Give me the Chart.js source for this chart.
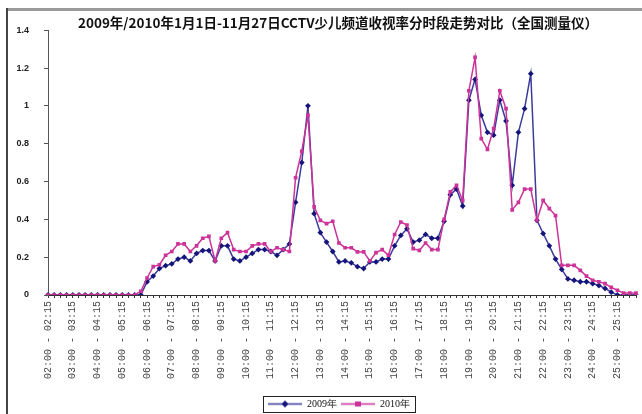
<!DOCTYPE html>
<html>
<head>
<meta charset="utf-8">
<script src="https://cdn.jsdelivr.net/npm/chart.js@4"></script>
<style>
  html, body { margin: 0; padding: 0; background: #fff; }
  #wrap { position: absolute; left: 0; top: 0; width: 642px; height: 414px; }
</style>
</head>
<body>
<div id="wrap"><canvas id="ratingChart" width="642" height="414"></canvas></div>
<script>
// hour labels shown under the axis (one every 4 quarter-hour slots)
const hourLabels = [
  '02:00 - 02:15', '03:00 - 03:15', '04:00 - 04:15', '05:00 - 05:15',
  '06:00 - 06:15', '07:00 - 07:15', '08:00 - 08:15', '09:00 - 09:15',
  '10:00 - 10:15', '11:00 - 11:15', '12:00 - 12:15', '13:00 - 13:15',
  '14:00 - 14:15', '15:00 - 15:15', '16:00 - 16:15', '17:00 - 17:15',
  '18:00 - 18:15', '19:00 - 19:15', '20:00 - 20:15', '21:00 - 21:15',
  '22:00 - 22:15', '23:00 - 23:15', '24:00 - 24:15', '25:00 - 25:15'
];

// rating per quarter hour, 02:00 .. 25:45
const rating2009 = [
  0, 0, 0, 0, 0, 0, 0, 0, 0, 0, 0, 0, 0, 0, 0, 0,
  0.07, 0.10, 0.14, 0.155, 0.165, 0.19, 0.20, 0.18, 0.22, 0.235, 0.235, 0.18,
  0.26, 0.26, 0.19, 0.18, 0.20, 0.22, 0.24, 0.24, 0.23, 0.21, 0.24, 0.27,
  0.49, 0.70, 1.00, 0.43, 0.33, 0.28, 0.23, 0.175, 0.18, 0.17, 0.15, 0.14,
  0.175, 0.175, 0.19, 0.19, 0.26, 0.315, 0.35, 0.28, 0.29, 0.32, 0.30, 0.30,
  0.39, 0.53, 0.56, 0.47, 1.03, 1.14, 0.95, 0.86, 0.845, 1.03, 0.92, 0.58,
  0.86, 0.985, 1.17, 0.395, 0.325, 0.26, 0.19, 0.135, 0.085, 0.078, 0.07, 0.07,
  0.06, 0.05, 0.035, 0.015, 0, 0, 0, 0
];
const rating2010 = [
  0, 0, 0, 0, 0, 0, 0, 0, 0, 0, 0, 0, 0, 0, 0, 0.02,
  0.09, 0.15, 0.16, 0.21, 0.23, 0.27, 0.27, 0.23, 0.26, 0.30, 0.31, 0.18,
  0.30, 0.33, 0.24, 0.23, 0.23, 0.26, 0.27, 0.27, 0.23, 0.25, 0.24, 0.23,
  0.62, 0.76, 0.95, 0.466, 0.395, 0.377, 0.39, 0.275, 0.25, 0.25, 0.228, 0.228,
  0.18, 0.224, 0.24, 0.21, 0.32, 0.386, 0.37, 0.245, 0.236, 0.275, 0.24, 0.24,
  0.40, 0.545, 0.58, 0.50, 1.08, 1.256, 0.827, 0.77, 0.88, 1.08, 0.985, 0.45,
  0.49, 0.56, 0.56, 0.395, 0.50, 0.457, 0.42, 0.157, 0.157, 0.157, 0.13, 0.10,
  0.078, 0.07, 0.06, 0.04, 0.025, 0.01, 0.01, 0.01
];

const seriesNames = ['2009年', '2010年'];
const titleText = '2009年/2010年1月1日-11月27日CCTV少儿频道收视率分时段走势对比（全国测量仪）';

const blue = '#3b3b9c';
const blueMark = '#14147a';
const pink = '#cc3399';

// quarter-hour slot names
const pad = n => String(n).padStart(2, '0');
const slots = [];
for (let h = 2; h < 26; h++) {
  for (let q = 0; q < 4; q++) {
    const m = q * 15, e = m + 15;
    const end = e === 60 ? pad(h + 1) + ':00' : pad(h) + ':' + pad(e);
    slots.push(pad(h) + ':' + pad(m) + ' - ' + end);
  }
}

// small line+marker swatch for legend entries
function swatch(color, markColor, diamond) {
  const c = document.createElement('canvas');
  c.width = 34; c.height = 9;
  const g = c.getContext('2d');
  g.strokeStyle = color; g.lineWidth = 1.5;
  g.beginPath(); g.moveTo(0, 4.5); g.lineTo(34, 4.5); g.stroke();
  g.fillStyle = markColor;
  g.beginPath();
  if (diamond) {
    g.moveTo(17, 1); g.lineTo(20.5, 4.5); g.lineTo(17, 8); g.lineTo(13.5, 4.5);
  } else {
    g.rect(14, 2, 6, 5);
  }
  g.closePath(); g.fill();
  return c;
}

// title and legend are centred on the page, not on the plot
function shiftBox(box, dx, dy) {
  box.left += dx; box.right += dx;
  box.top += dy; box.bottom += dy;
}

const framePlugin = {
  id: 'frame',
  afterUpdate(chart) {
    const tb = chart.titleBlock;
    if (tb) shiftBox(tb, 338 - (tb.left + tb.right) / 2, 1);
    const lg = chart.legend;
    if (lg) {
      const dx = 340 - (lg.left + lg.right) / 2 - 1, dy = 5;
      shiftBox(lg, dx, dy);
      lg.legendHitBoxes.forEach(b => { b.left += dx; b.top += dy; });
    }
  },
  beforeDraw(chart) {
    const ctx = chart.ctx;
    ctx.save();
    ctx.fillStyle = '#9a9a9a';
    ctx.fillRect(6, 8, 642, 3);
    ctx.fillStyle = '#444';
    ctx.fillRect(6, 8, 2, 414);
    ctx.restore();
  },
  afterDraw(chart) {
    const boxes = chart.legend && chart.legend.legendHitBoxes;
    if (!boxes || !boxes.length) return;
    const l = Math.min(...boxes.map(b => b.left)) - 5;
    const r = Math.max(...boxes.map(b => b.left + b.width)) + 5;
    const t = boxes[0].top - 3;
    const h = boxes[0].height + 6;
    const ctx = chart.ctx;
    ctx.save();
    ctx.strokeStyle = '#222';
    ctx.lineWidth = 1;
    ctx.strokeRect(Math.round(l) + 0.5, Math.round(t) + 0.5, Math.round(r - l), Math.round(h));
    ctx.restore();
  }
};

new Chart(document.getElementById('ratingChart'), {
  type: 'line',
  data: {
    labels: slots,
    datasets: [{
      label: seriesNames[0],
      data: rating2009,
      borderColor: blue,
      backgroundColor: blueMark,
      borderWidth: 1.5,
      pointStyle: 'rectRot',
      pointRadius: 2.9,
      pointBorderWidth: 0,
      pointBackgroundColor: blueMark,
      tension: 0,
      order: 1
    }, {
      label: seriesNames[1],
      data: rating2010,
      borderColor: pink,
      backgroundColor: pink,
      borderWidth: 1.5,
      pointStyle: 'rect',
      pointRadius: 2.6,
      pointBorderWidth: 0,
      pointBackgroundColor: pink,
      tension: 0,
      order: 0
    }]
  },
  options: {
    responsive: false,
    animation: false,
    layout: { padding: { left: 0, right: 6, top: 0, bottom: 0 } },
    plugins: {
      title: {
        display: true,
        text: titleText,
        color: '#111',
        font: { family: '"Noto Sans CJK SC"', size: 13.5, weight: 'bold' },
        padding: { top: 14, bottom: 0 }
      },
      legend: {
        position: 'bottom',
        labels: {
          usePointStyle: true,
          pointStyleWidth: 34,
          boxHeight: 9,
          padding: 4,
          color: '#111',
          font: { family: '"Liberation Serif"', size: 10 },
          generateLabels: () => [
            { text: seriesNames[0], pointStyle: swatch(blue, blueMark, true), datasetIndex: 0, lineWidth: 0, fontColor: '#111' },
            { text: seriesNames[1], pointStyle: swatch(pink, pink, false), datasetIndex: 1, lineWidth: 0, fontColor: '#111' }
          ]
        }
      },
      tooltip: { enabled: false }
    },
    scales: {
      x: {
        offset: false,
        afterFit: s => { s.height = 95; s.paddingRight = 0; s.paddingLeft = 0; },
        grid: { display: true, drawOnChartArea: false, tickLength: 3, color: '#333' },
        border: { display: true, color: '#333', width: 1 },
        ticks: {
          autoSkip: false,
          minRotation: 90,
          maxRotation: 90,
          padding: 3,
          color: '#444',
          font: { family: '"Liberation Mono"', size: 10 },
          callback: (v, i) => i % 4 === 0 ? hourLabels[i / 4] : ''
        }
      },
      y: {
        min: 0,
        max: 1.4,
        afterFit: s => { s.width = 48; },
        grid: { display: true, drawOnChartArea: false, tickLength: 4, color: '#555' },
        border: { display: true, color: '#555', width: 1 },
        ticks: {
          stepSize: 0.2,
          padding: 15,
          color: '#222',
          font: { family: '"Liberation Sans"', size: 9, weight: 'bold' },
          callback: v => String(Math.round(v * 10) / 10)
        }
      }
    }
  },
  plugins: [framePlugin]
});
</script>
</body>
</html>
